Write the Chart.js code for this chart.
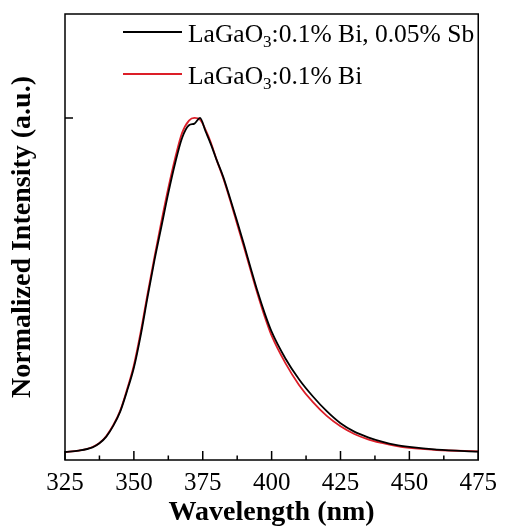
<!DOCTYPE html>
<html>
<head>
<meta charset="utf-8">
<script src="https://cdn.jsdelivr.net/npm/chart.js"></script>
<style>
  html, body { margin: 0; padding: 0; background: #fff; }
  #wrap { width: 505px; height: 532px; position: relative; }
</style>
</head>
<body>
<div id="wrap"><canvas id="chart"></canvas></div>
<script>
// wavelengths (nm) the two spectra were read at
const wavelengths = [325, 330, 335, 337.5, 340, 342.5, 345, 347.5, 350, 352.5, 355, 357.5, 360, 362.5, 365, 367.5, 370, 372, 374, 376, 378, 380, 382.5, 385, 387.5, 390, 392.5, 395, 397.5, 400, 405, 410, 415, 420, 425, 430, 435, 440, 445, 450, 460, 475];

// LaGaO3:0.1% Bi, 0.05% Sb (black)
const biSbValues = [0.0, 0.004, 0.014, 0.026, 0.046, 0.078, 0.12, 0.182, 0.252, 0.35, 0.465, 0.575, 0.675, 0.775, 0.865, 0.94, 0.978, 0.983, 1.0, 0.96, 0.92, 0.875, 0.822, 0.757, 0.69, 0.62, 0.548, 0.478, 0.415, 0.36, 0.28, 0.217, 0.166, 0.122, 0.086, 0.061, 0.044, 0.031, 0.021, 0.015, 0.007, 0.001];

// LaGaO3:0.1% Bi (red)
const biValues = [0.0, 0.004, 0.015, 0.027, 0.048, 0.08, 0.123, 0.187, 0.26, 0.36, 0.475, 0.585, 0.69, 0.79, 0.88, 0.955, 0.992, 1.0, 0.995, 0.965, 0.925, 0.875, 0.818, 0.752, 0.682, 0.612, 0.54, 0.47, 0.405, 0.348, 0.266, 0.2, 0.149, 0.108, 0.077, 0.054, 0.038, 0.027, 0.018, 0.012, 0.006, 0.002];

const xTicks = [325, 350, 375, 400, 425, 450, 475];
const yTicks = [1];

const seriesNames = ['LaGaO3:0.1% Bi, 0.05% Sb', 'LaGaO3:0.1% Bi'];
const seriesColors = ['#000000', '#dc1e28'];

const FONT = '"Liberation Serif", "Times New Roman", serif';

function toPoints(values) {
    return wavelengths.map((w, i) => ({ x: w, y: values[i] }));
}

// frame, inward tick marks and the legend (subscript needs manual drawing)
const framePlugin = {
    id: 'frame',
    afterDraw(chart) {
        const { ctx, chartArea: a, scales } = chart;
        const xs = scales.x, ys = scales.y;
        ctx.save();
        ctx.strokeStyle = '#000';
        ctx.lineWidth = 1.5;
        ctx.strokeRect(a.left, a.top, a.right - a.left, a.bottom - a.top);

        ctx.beginPath();
        for (let i = 0; i < xTicks.length; i++) {
            const px = xs.getPixelForValue(xTicks[i]);
            ctx.moveTo(px, a.bottom);
            ctx.lineTo(px, a.bottom - 9);
            if (i < xTicks.length - 1) {
                const mx = xs.getPixelForValue((xTicks[i] + xTicks[i + 1]) / 2);
                ctx.moveTo(mx, a.bottom);
                ctx.lineTo(mx, a.bottom - 4.5);
            }
        }
        yTicks.forEach(v => {
            const py = ys.getPixelForValue(v);
            ctx.moveTo(a.left, py);
            ctx.lineTo(a.left + 8, py);
        });
        ctx.stroke();

        // legend
        const rows = [{ y: 32 }, { y: 74 }];
        rows.forEach((r, i) => {
            ctx.strokeStyle = seriesColors[i];
            ctx.lineWidth = 1.8;
            ctx.beginPath();
            ctx.moveTo(123, r.y);
            ctx.lineTo(182, r.y);
            ctx.stroke();

            const base = r.y + 10;
            let x = 188;
            ctx.fillStyle = '#000';
            ctx.textBaseline = 'alphabetic';
            ctx.textAlign = 'left';
            ctx.font = '25.5px ' + FONT;
            ctx.fillText('LaGaO', x, base);
            x += ctx.measureText('LaGaO').width;
            ctx.font = '17px ' + FONT;
            ctx.fillText('3', x, base + 5);
            x += ctx.measureText('3').width;
            ctx.font = '25.5px ' + FONT;
            const rest = seriesNames[i].slice(6);
            ctx.fillText(rest, x, base);
        });
        ctx.restore();
    }
};

new Chart(document.getElementById('chart'), {
    type: 'line',
    data: {
        datasets: [
            {
                label: seriesNames[0],
                data: toPoints(biSbValues),
                borderColor: seriesColors[0],
                borderWidth: 1.8,
                pointRadius: 0,
                cubicInterpolationMode: 'monotone',
                fill: false
            },
            {
                label: seriesNames[1],
                data: toPoints(biValues),
                borderColor: seriesColors[1],
                borderWidth: 1.8,
                pointRadius: 0,
                cubicInterpolationMode: 'monotone',
                fill: false
            }
        ]
    },
    options: {
        responsive: true,
        maintainAspectRatio: false,
        animation: false,
        events: [],
        layout: { padding: { top: 14, right: 21, left: 0, bottom: 0 } },
        plugins: {
            legend: { display: false },
            tooltip: { enabled: false }
        },
        scales: {
            x: {
                type: 'linear',
                min: 325,
                max: 475,
                grid: { display: false, drawTicks: false },
                border: { display: false },
                afterBuildTicks: scale => {
                    scale.ticks = xTicks.map(v => ({ value: v }));
                },
                afterFit: scale => { scale.height = 72; },
                ticks: {
                    color: '#000',
                    padding: 8,
                    maxRotation: 0,
                    font: { family: FONT, size: 25 }
                },
                title: {
                    display: true,
                    text: 'Wavelength (nm)',
                    color: '#000',
                    padding: { top: 0, bottom: 2 },
                    font: { family: FONT, size: 28, weight: 'bold' }
                }
            },
            y: {
                min: -0.024,
                max: 1.311,
                grid: { display: false, drawTicks: false },
                border: { display: false },
                ticks: { display: false },
                afterFit: scale => { scale.width = 65; },
                title: {
                    display: true,
                    text: 'Normalized Intensity (a.u.)',
                    color: '#000',
                    padding: { top: 6, bottom: 0 },
                    font: { family: FONT, size: 28, weight: 'bold' }
                }
            }
        }
    },
    plugins: [framePlugin]
});
</script>
</body>
</html>
